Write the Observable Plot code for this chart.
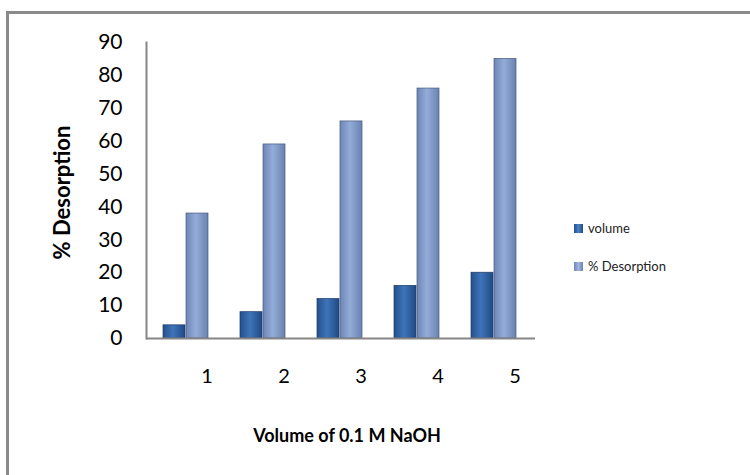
<!DOCTYPE html>
<html>
<head>
<meta charset="utf-8">
<script src="https://cdn.jsdelivr.net/npm/d3@7"></script>
<script src="https://cdn.jsdelivr.net/npm/@observablehq/plot@0.6"></script>
<style>
  html, body { margin: 0; padding: 0; background: #fff; overflow: hidden; }
  #wrap { position: relative; width: 750px; height: 475px; overflow: hidden; font-family: Lato, "Open Sans", sans-serif; }
  #border { position: absolute; left: 6px; top: 11px; width: 800px; height: 500px; border-left: 3px solid #8a8a8a; border-top: 3px solid #8a8a8a; }
  #chart { position: absolute; left: 0; top: 0; }
  .leg { position: absolute; font-size: 13px; color: #222; display: flex; align-items: center; white-space: nowrap; }
  .leg span.sw { display: inline-block; width: 9px; height: 9px; margin-right: 5px; }
</style>
</head>
<body>
<div id="wrap">
  <div id="border"></div>
  <div id="chart"></div>
  <div class="leg" style="left:574px; top:220px;"><span class="sw" style="background:linear-gradient(90deg,#24508c,#4a80c4,#1f4a85)"></span>volume</div>
  <div class="leg" style="left:574px; top:258px;"><span class="sw" style="background:linear-gradient(90deg,#6d86b6,#a0b6de,#6a82b0)"></span>% Desorption</div>
</div>
<script>
const categories = ["1", "2", "3", "4", "5"];
const volume = [4, 8, 12, 16, 20];
const desorption = [38, 59, 66, 76, 85];
const yTicks = [0, 10, 20, 30, 40, 50, 60, 70, 80, 90];
const xTitle = "Volume of 0.1 M NaOH";
const yTitle = "% Desorption";

const data = categories.map((c, i) => ({cat: c, volume: volume[i], desorption: desorption[i]}));

const DARK = "#2e5f9f";
const LIGHT = "#7f99c9";

const chart = Plot.plot({
  width: 750,
  height: 475,
  marginLeft: 146,
  marginRight: 215,
  marginTop: 42,
  marginBottom: 137,
  style: {fontFamily: "Lato, 'Open Sans', sans-serif", fontSize: "21px", color: "#000", background: "transparent"},
  x: {domain: categories, padding: 0, axis: null},
  y: {domain: [0, 90], ticks: yTicks, tickSize: 0, tickPadding: 24, label: null},
  marks: [
    Plot.barY(data, {x: "cat", y: "volume", fill: DARK, insetLeft: 15, insetRight: 40, stroke: "#1d3a66", strokeWidth: 0.7}),
    Plot.barY(data, {x: "cat", y: "desorption", fill: LIGHT, insetLeft: 38, insetRight: 17, stroke: "#46597f", strokeWidth: 0.7}),
    Plot.frame({anchor: "left", stroke: "#868686", strokeWidth: 2}),
    Plot.ruleY([0], {stroke: "#868686", strokeWidth: 2}),
    Plot.text(categories, {x: d => d, text: d => d, frameAnchor: "bottom", dy: 44, dx: 20, fontSize: 20}),
    Plot.text([xTitle], {frameAnchor: "bottom", dy: 103, dx: 6, fontWeight: "bold", fontSize: 18}),
    Plot.text([yTitle], {frameAnchor: "left", textAnchor: "middle", dx: -84, dy: 2, rotate: -90, fontWeight: "bold", fontSize: 22})
  ]
});

// gradients for the bevelled bars
const ns = "http://www.w3.org/2000/svg";
const defs = document.createElementNS(ns, "defs");
function grad(id, stops) {
  const g = document.createElementNS(ns, "linearGradient");
  g.setAttribute("id", id);
  g.setAttribute("x1", "0"); g.setAttribute("x2", "1"); g.setAttribute("y1", "0"); g.setAttribute("y2", "0");
  stops.forEach(([o, c]) => {
    const s = document.createElementNS(ns, "stop");
    s.setAttribute("offset", o); s.setAttribute("stop-color", c);
    g.appendChild(s);
  });
  defs.appendChild(g);
}
grad("gDark", [[0, "#24508c"], [0.45, "#3e74b9"], [1, "#1f4a85"]]);
grad("gLight", [[0, "#6d86b6"], [0.45, "#93acd8"], [1, "#6a82b0"]]);
chart.insertBefore(defs, chart.firstChild);
chart.querySelectorAll(`[fill="${DARK}"]`).forEach(el => el.setAttribute("fill", "url(#gDark)"));
chart.querySelectorAll(`[fill="${LIGHT}"]`).forEach(el => el.setAttribute("fill", "url(#gLight)"));

document.getElementById("chart").appendChild(chart);
</script>
</body>
</html>
